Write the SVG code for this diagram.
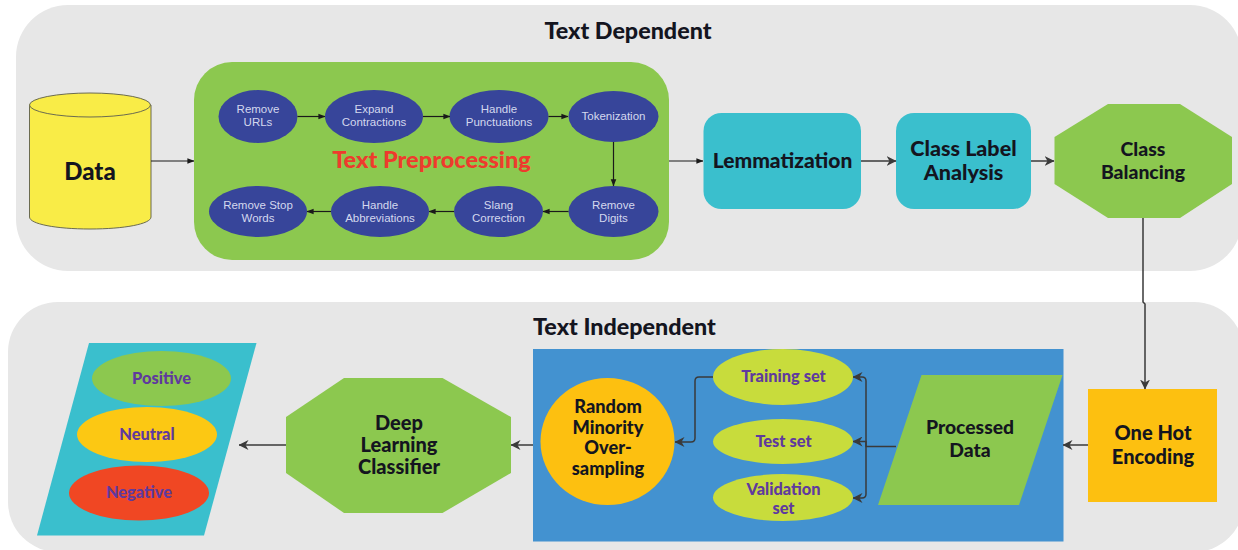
<svg xmlns="http://www.w3.org/2000/svg" width="1238" height="550" viewBox="0 0 1238 550">
<style>
.panel{fill:#e7e7e7}
.inner{fill:#37459a}
.s{font-family:"Liberation Sans",Arial,sans-serif;font-size:11.5px;fill:#d4d8ee;text-anchor:middle}
.b{font-family:Lato,"Liberation Sans",sans-serif;font-weight:900;fill:#14151f;text-anchor:middle}
.p{font-family:Lato,"Liberation Sans",sans-serif;font-weight:900;font-size:16.4px;fill:#5f3a9e;text-anchor:middle}
.c{fill:none;stroke:#3a3a3a;stroke-width:1.5}
.c2{fill:none;stroke:#1a1a1a;stroke-width:1.2}
</style>
<defs>
<marker id="a" viewBox="0 0 10 10" refX="9.500" refY="5" markerWidth="7" markerHeight="7" orient="auto" markerUnits="userSpaceOnUse"><path d="M0 1L10 5L0 9Z" fill="#1a1a1a"/></marker>
<marker id="d" viewBox="0 0 10 10" refX="9.500" refY="5" markerWidth="10" markerHeight="10" orient="auto" markerUnits="userSpaceOnUse"><path d="M0 0L10 5L0 10L3 5Z" fill="#3a3a3a"/></marker>
</defs>
<rect width="1238" height="550" fill="#ffffff"/>
<g id="panel-top"><rect class="panel" x="16" y="5" width="1226" height="266" rx="52"/><text class="b" x="628" y="38.500" font-size="23.300">Text Dependent</text></g>
<g id="panel-bottom"><rect class="panel" x="8" y="302" width="1236" height="250" rx="50"/><text class="b" x="624.500" y="334.500" font-size="23.300">Text Independent</text></g>
<g id="data"><path d="M29.500 105V217C29.500 224 56 229 90 229S151 224 151 217V105Z" fill="#f9ec47" stroke="#6b6b50"/><ellipse cx="90" cy="105" rx="60.500" ry="12" fill="#f9ec47" stroke="#6b6b50"/><text class="b" x="90" y="180" font-size="24">Data</text></g>
<g id="text-preprocessing"><rect x="194" y="62" width="475" height="198" rx="38" fill="#8cc84f"/><text x="431.500" y="168" font-family="Lato,sans-serif" font-weight="900" font-size="23.500" fill="#ee3b2d" text-anchor="middle">Text Preprocessing</text></g>
<g id="remove-urls"><ellipse class="inner" cx="258" cy="116.500" rx="39.500" ry="26.500"/><text class="s" x="258" y="113">Remove</text><text class="s" x="258" y="126">URLs</text></g>
<g id="expand-contractions"><ellipse class="inner" cx="374" cy="116.500" rx="49" ry="26.500"/><text class="s" x="374" y="113">Expand</text><text class="s" x="374" y="126">Contractions</text></g>
<g id="handle-punctuations"><ellipse class="inner" cx="499" cy="116.500" rx="49.500" ry="26.500"/><text class="s" x="499" y="113">Handle</text><text class="s" x="499" y="126">Punctuations</text></g>
<g id="tokenization"><ellipse class="inner" cx="613.500" cy="116.500" rx="45" ry="25.500"/><text class="s" x="613.500" y="119.500">Tokenization</text></g>
<g id="remove-digits"><ellipse class="inner" cx="613.500" cy="211.500" rx="45" ry="25.500"/><text class="s" x="613.500" y="209">Remove</text><text class="s" x="613.500" y="222">Digits</text></g>
<g id="slang-correction"><ellipse class="inner" cx="498.500" cy="211.500" rx="44.500" ry="25.500"/><text class="s" x="498.500" y="209">Slang</text><text class="s" x="498.500" y="222">Correction</text></g>
<g id="handle-abbreviations"><ellipse class="inner" cx="380" cy="211.500" rx="49" ry="25.500"/><text class="s" x="380" y="209">Handle</text><text class="s" x="380" y="222">Abbreviations</text></g>
<g id="remove-stop-words"><ellipse class="inner" cx="258" cy="211.500" rx="49" ry="25.500"/><text class="s" x="258" y="209">Remove Stop</text><text class="s" x="258" y="222">Words</text></g>
<g id="lemmatization"><rect x="703.500" y="113" width="157.500" height="96" rx="18" fill="#3abfcd"/><text class="b" x="782.500" y="167.500" font-size="21">Lemmatization</text></g>
<g id="class-label-analysis"><rect x="896" y="113" width="135" height="96" rx="18" fill="#3abfcd"/><text class="b" x="963.500" y="155.500" font-size="21.500">Class Label</text><text class="b" x="963.500" y="179.500" font-size="21.500">Analysis</text></g>
<g id="class-balancing"><polygon points="1108,104 1180,104 1232,137 1232,184 1180,218 1108,218 1054.500,184 1054.500,137" fill="#8cc84f"/><text class="b" x="1143" y="156" font-size="19.400">Class</text><text class="b" x="1143" y="179" font-size="19.400">Balancing</text></g>
<g id="one-hot-encoding"><rect x="1088" y="389" width="129" height="113" fill="#fdc010"/><text class="b" x="1153" y="440" font-size="20">One Hot</text><text class="b" x="1153" y="464" font-size="20">Encoding</text></g>
<g id="split-block"><rect x="533" y="349" width="530.500" height="192.500" fill="#4392d0"/></g>
<g id="processed-data"><polygon points="921.500,375 1062.500,375 1019,505 878,505" fill="#8cc84f"/><text class="b" x="970" y="434" font-size="19.300">Processed</text><text class="b" x="970" y="456.500" font-size="19.300">Data</text></g>
<g id="training-set"><ellipse cx="783" cy="377" rx="70" ry="28" fill="#c8dc3c"/><text class="p" x="783.500" y="382">Training set</text></g>
<g id="test-set"><ellipse cx="783" cy="441.500" rx="70" ry="22.500" fill="#c8dc3c"/><text class="p" x="783.500" y="447">Test set</text></g>
<g id="validation-set"><ellipse cx="783" cy="497.500" rx="70" ry="23.500" fill="#c8dc3c"/><text class="p" x="783.500" y="495">Validation</text><text class="p" x="783.500" y="514">set</text></g>
<g id="random-minority"><ellipse cx="607.500" cy="441.500" rx="67" ry="63.500" fill="#fdc010"/><text class="b" x="608" y="413" font-size="18.200">Random</text><text class="b" x="608" y="433.500" font-size="18.200">Minority</text><text class="b" x="608" y="454" font-size="18.200">Over-</text><text class="b" x="608" y="474.500" font-size="18.200">sampling</text></g>
<g id="deep-learning-classifier"><polygon points="344,378 442.500,378 511,417 511,473 442.500,513 344,513 286,473 286,417" fill="#8cc84f"/><text class="b" x="399" y="429.500" font-size="20">Deep</text><text class="b" x="399" y="451.500" font-size="20">Learning</text><text class="b" x="399" y="473.500" font-size="20">Classifier</text></g>
<g id="sentiment-output"><polygon points="89,343 256.500,343 204,535.500 37,535.500" fill="#3abfcd"/></g>
<g id="positive"><ellipse cx="161.500" cy="378.500" rx="69.500" ry="27.500" fill="#8cc84f"/><text class="p" x="161.500" y="383.500">Positive</text></g>
<g id="neutral"><ellipse cx="147" cy="434.500" rx="70" ry="27.500" fill="#fcc813"/><text class="p" x="147" y="439.500">Neutral</text></g>
<g id="negative"><ellipse cx="139" cy="493" rx="70" ry="27.500" fill="#f04723"/><text class="p" x="139" y="498">Negative</text></g>
<g id="connectors">
<path class="c2" marker-end="url(#a)" d="M297.500 116.500H325"/>
<path class="c2" marker-end="url(#a)" d="M423 116.500H450"/>
<path class="c2" marker-end="url(#a)" d="M548.500 116.500H568"/>
<path class="c2" marker-end="url(#a)" d="M613.500 142V186"/>
<path class="c2" marker-end="url(#a)" d="M568.500 211.500H543"/>
<path class="c2" marker-end="url(#a)" d="M454 211.500H429"/>
<path class="c2" marker-end="url(#a)" d="M331 211.500H307"/>
<path class="c2" marker-end="url(#a)" d="M151 161H194"/>
<path class="c2" marker-end="url(#a)" d="M669 161H703"/>
<path class="c" marker-end="url(#d)" d="M861 161H896"/>
<path class="c" marker-end="url(#d)" d="M1031 161H1054"/>
<path class="c" marker-end="url(#d)" d="M1143 218V302L1145 304V389"/>
<path class="c" marker-end="url(#d)" d="M1088 445H1063"/>
<path class="c" marker-end="url(#d)" d="M896 446.500H866V381Q866 377 862 377H853"/>
<path class="c" marker-end="url(#d)" d="M866 446.500V441.500H853"/>
<path class="c" marker-end="url(#d)" d="M866 446.500V494Q866 498 862 498H853"/>
<path class="c" marker-end="url(#d)" d="M713 377H699Q695 377 695 381V438Q695 442 691 442H675"/>
<path class="c" marker-end="url(#d)" d="M533 445H511"/>
<path class="c" marker-end="url(#d)" d="M286 445H239"/>
</g>
</svg>
